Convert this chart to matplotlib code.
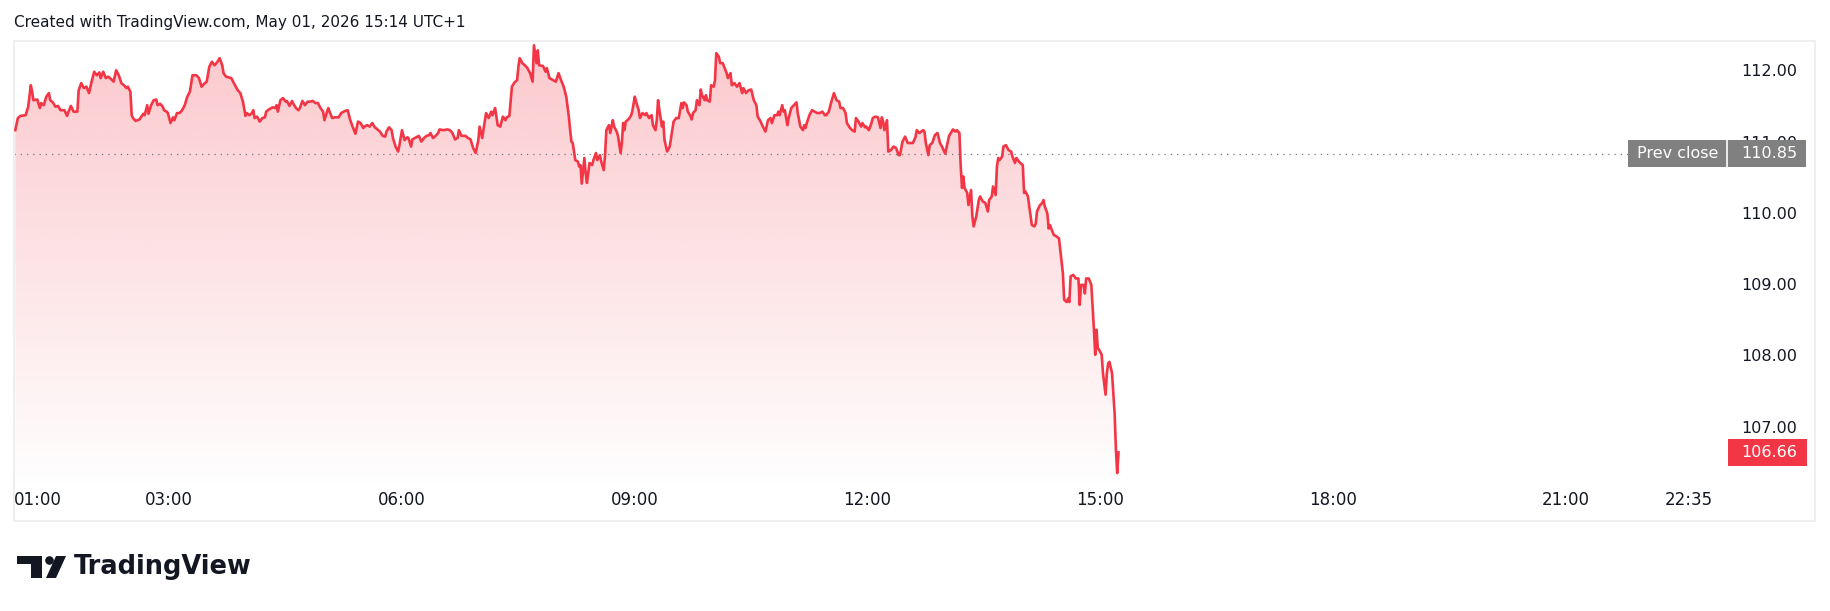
import numpy as np
import matplotlib
matplotlib.use("Agg")
import matplotlib.pyplot as plt
from matplotlib.colors import to_rgb
from matplotlib.patches import Polygon, Rectangle, Circle
from matplotlib.transforms import blended_transform_factory

# minutes after 01:00 (May 01, 2026, UTC+1) and traded price
minutes = [
    1, 3, 5, 9, 11, 13, 14, 15, 18, 20, 21, 23, 25, 27, 28, 30, 32, 34, 36, 39,
    41, 42, 44, 46, 49, 50, 52, 54, 56, 58, 60, 62, 64, 66, 67, 69, 71, 73, 76, 77,
    79, 81, 83, 85, 87, 88, 90, 91, 92, 94, 97, 100, 101, 103, 104, 106, 108, 110, 111, 113,
    115, 116, 118, 119, 121, 123, 124, 126, 128, 130, 132, 134, 136, 138, 141, 143, 145, 147, 149, 151,
    153, 155, 157, 159, 161, 162, 164, 168, 170, 173, 175, 177, 179, 180, 182, 184, 185, 186, 188, 190,
    192, 194, 195, 197, 200, 202, 203, 204, 206, 208, 210, 211, 213, 215, 216, 218, 220, 221, 223, 225,
    227, 229, 231, 233, 235, 237, 239, 240, 243, 244, 246, 248, 251, 253, 256, 258, 260, 262, 264, 266,
    268, 270, 271, 273, 275, 277, 279, 281, 283, 285, 287, 288, 290, 292, 293, 295, 297, 298, 300, 302,
    304, 305, 307, 308, 310, 312, 313, 315, 317, 319, 321, 322, 324, 326, 328, 329, 332, 335, 337, 339,
    341, 343, 344, 346, 349, 351, 353, 355, 357, 359, 360, 362, 364, 365, 367, 369, 370, 372, 374, 376,
    378, 380, 381, 383, 385, 387, 389, 390, 391, 393, 395, 397, 399, 401, 402, 404, 405, 406, 409, 411,
    412, 414, 417, 419, 421, 423, 425, 427, 428, 429, 430, 431, 432, 434, 436, 437, 438, 439, 441, 442,
    443, 445, 447, 448, 450, 451, 453, 454, 456, 457, 458, 460, 461, 463, 464, 466, 467, 469, 470, 471,
    472, 473, 475, 477, 478, 480, 481, 483, 484, 486, 488, 489, 491, 493, 494, 496, 497, 498, 499, 501,
    502, 503, 505, 507, 509, 510, 512, 514, 516, 517, 518, 520, 521, 523, 524, 525, 527, 528, 530, 531,
    532, 534, 535, 536, 538, 539, 541, 542, 543, 545, 546, 548, 551, 552, 554, 555, 557, 559, 561, 563,
    564, 566, 568, 570, 572, 574, 575, 577, 579, 581, 583, 585, 586, 588, 590, 591, 592, 594, 595, 596,
    598, 599, 601, 603, 605, 606, 608, 610, 611, 612, 613, 615, 617, 619, 621, 623, 625, 627, 628, 630,
    632, 634, 636, 638, 639, 641, 643, 644, 646, 648, 650, 651, 653, 655, 656, 658, 659, 661, 663, 664,
    666, 668, 670, 671, 672, 673, 675, 676, 678, 680, 682, 684, 685, 687, 689, 691, 693, 695, 697, 698,
    700, 703, 704, 705, 707, 708, 710, 712, 714, 716, 718, 720, 722, 723, 726, 728, 729, 731, 732, 733,
    734, 735, 737, 738, 740, 741, 742, 744, 746, 747, 749, 751, 753, 754, 756, 757, 759, 760, 761, 762,
    764, 765, 767, 769, 771, 772, 774, 775, 777, 778, 780, 781, 782, 784, 785, 787, 789, 790, 791, 793,
    795, 796, 797, 799, 800, 801, 802, 804, 806, 808, 809, 811, 812, 814, 815, 816, 817, 819, 821, 823,
    824, 825, 827, 828, 829, 831, 833, 834, 835, 836, 837, 838, 839, 841, 842, 844, 845, 846, 847, 849,
    850, 851, 852, 853, 854,
]
prices = [
    111.18, 111.35, 111.38, 111.39, 111.51, 111.81, 111.72, 111.60, 111.61, 111.49, 111.56, 111.53, 111.65, 111.70, 111.60, 111.57, 111.51, 111.52, 111.46, 111.46,
    111.38, 111.43, 111.52, 111.44, 111.44, 111.74, 111.84, 111.77, 111.79, 111.70, 111.86, 112.00, 111.95, 111.99, 111.91, 112.00, 111.91, 111.93, 111.88, 111.86,
    112.02, 111.95, 111.84, 111.81, 111.77, 111.79, 111.72, 111.39, 111.35, 111.31, 111.33, 111.41, 111.39, 111.53, 111.41, 111.53, 111.60, 111.61, 111.53, 111.55,
    111.51, 111.46, 111.44, 111.42, 111.28, 111.36, 111.32, 111.42, 111.42, 111.46, 111.53, 111.65, 111.72, 111.95, 111.95, 111.91, 111.79, 111.83, 111.86, 112.07,
    112.14, 112.09, 112.13, 112.19, 112.09, 111.98, 111.93, 111.91, 111.84, 111.74, 111.70, 111.58, 111.38, 111.42, 111.39, 111.42, 111.46, 111.35, 111.37, 111.30,
    111.35, 111.36, 111.44, 111.47, 111.50, 111.49, 111.53, 111.44, 111.60, 111.63, 111.58, 111.59, 111.52, 111.59, 111.55, 111.49, 111.46, 111.49, 111.59, 111.53,
    111.58, 111.58, 111.59, 111.56, 111.56, 111.49, 111.44, 111.32, 111.49, 111.44, 111.35, 111.36, 111.36, 111.42, 111.45, 111.46, 111.32, 111.22, 111.13, 111.30,
    111.28, 111.21, 111.23, 111.25, 111.23, 111.28, 111.22, 111.19, 111.16, 111.10, 111.09, 111.16, 111.22, 111.18, 111.07, 110.95, 110.88, 110.97, 111.18, 111.04,
    111.08, 111.07, 110.95, 111.05, 111.07, 111.09, 111.10, 111.02, 111.07, 111.10, 111.11, 111.14, 111.07, 111.10, 111.14, 111.19, 111.18, 111.19, 111.18, 111.14,
    111.05, 111.07, 111.18, 111.10, 111.10, 111.07, 111.05, 110.93, 110.86, 111.04, 111.23, 111.07, 111.30, 111.42, 111.35, 111.44, 111.39, 111.49, 111.25, 111.23,
    111.37, 111.32, 111.36, 111.38, 111.79, 111.85, 111.88, 112.07, 112.19, 112.12, 112.09, 112.05, 111.98, 111.86, 112.37, 112.12, 112.30, 112.09, 112.08, 112.00,
    112.05, 111.91, 111.88, 111.86, 111.98, 111.88, 111.79, 111.65, 111.51, 111.37, 111.18, 111.02, 111.00, 110.76, 110.74, 110.67, 110.69, 110.43, 110.79, 110.58,
    110.44, 110.72, 110.69, 110.76, 110.86, 110.76, 110.83, 110.74, 110.62, 110.83, 111.18, 111.25, 111.14, 111.32, 111.23, 111.16, 111.10, 110.86, 111.00, 111.28,
    111.18, 111.30, 111.33, 111.38, 111.44, 111.65, 111.58, 111.46, 111.35, 111.42, 111.39, 111.42, 111.35, 111.39, 111.25, 111.18, 111.32, 111.60, 111.46, 111.23,
    111.30, 111.04, 110.88, 110.95, 111.18, 111.30, 111.35, 111.35, 111.56, 111.49, 111.57, 111.53, 111.44, 111.38, 111.33, 111.42, 111.46, 111.60, 111.53, 111.75,
    111.67, 111.60, 111.67, 111.60, 111.58, 111.81, 111.79, 111.88, 112.26, 112.21, 112.12, 112.12, 111.98, 111.91, 111.98, 111.81, 111.84, 111.79, 111.84, 111.70,
    111.77, 111.70, 111.74, 111.75, 111.60, 111.53, 111.37, 111.31, 111.23, 111.16, 111.32, 111.35, 111.28, 111.39, 111.39, 111.44, 111.39, 111.53, 111.44, 111.46,
    111.25, 111.35, 111.49, 111.53, 111.57, 111.42, 111.23, 111.18, 111.25, 111.21, 111.28, 111.39, 111.46, 111.44, 111.42, 111.42, 111.44, 111.39, 111.39, 111.44,
    111.58, 111.70, 111.60, 111.58, 111.49, 111.49, 111.42, 111.28, 111.22, 111.18, 111.16, 111.35, 111.30, 111.23, 111.28, 111.22, 111.23, 111.18, 111.28, 111.35,
    111.37, 111.36, 111.21, 111.36, 111.30, 111.18, 111.32, 110.88, 110.90, 110.95, 110.93, 110.83, 110.83, 111.02, 111.09, 111.00, 111.00, 111.00, 111.08, 111.18,
    111.14, 111.18, 111.16, 111.00, 110.83, 110.97, 111.00, 111.11, 111.14, 111.00, 110.93, 110.85, 111.02, 111.10, 111.19, 111.16, 111.18, 111.14, 110.67, 110.37,
    110.53, 110.37, 110.30, 110.13, 110.34, 109.97, 109.83, 109.97, 110.20, 110.25, 110.18, 110.16, 110.04, 110.20, 110.25, 110.39, 110.27, 110.67, 110.79, 110.76,
    110.81, 110.95, 110.97, 110.90, 110.88, 110.81, 110.72, 110.79, 110.74, 110.72, 110.69, 110.30, 110.32, 110.25, 110.11, 109.85, 109.83, 109.87, 110.04, 110.12,
    110.16, 110.20, 110.11, 110.01, 109.80, 109.85, 109.80, 109.71, 109.69, 109.66, 109.50, 109.17, 108.80, 108.77, 108.82, 108.77, 109.13, 109.15, 109.10, 109.10,
    108.73, 109.01, 109.01, 108.89, 109.10, 109.10, 109.01, 108.70, 108.38, 108.03, 108.38, 108.12, 108.10, 108.03, 107.77, 107.47, 107.77, 107.91, 107.93, 107.77,
    107.49, 107.21, 106.70, 106.37, 106.66,
]

prev_close = 110.85
last_price = 106.66
price_ticks = [112, 111, 110, 109, 108, 107]
time_ticks = [1, 3, 6, 9, 12, 15, 18, 21, 22 + 35 / 60]
time_labels = ['01:00', '03:00', '06:00', '09:00', '12:00', '15:00', '18:00', '21:00', '22:35']
header = 'Created with TradingView.com, May 01, 2026 15:14 UTC+1'

RED = '#F23645'
TEXT = '#131722'
GREY = '#808080'
FONT = 11.5

hours = 1 + np.array(minutes) / 60.0
prices = np.array(prices)

W, H = 1830, 611
fig = plt.figure(figsize=(W / 100, H / 100), dpi=100)
fig.patch.set_facecolor('white')

# page overlay in pixel units (header + logo)
page = fig.add_axes([0, 0, 1, 1])
page.set_xlim(0, W)
page.set_ylim(H, 0)
page.axis('off')

page.text(14, 22, header, fontsize=11, color=TEXT, va='center', ha='left')

# TradingView logo
page.add_patch(Rectangle((17, 556), 25, 8, color=TEXT, lw=0))
page.add_patch(Rectangle((31, 556), 11, 22, color=TEXT, lw=0))
page.add_patch(Circle((49.5, 560.5), 4.3, color=TEXT, lw=0))
page.add_patch(Polygon([(46, 578), (56, 578), (66, 556), (56, 556)], closed=True, color=TEXT, lw=0))
page.text(74, 567, 'TradingView', fontsize=18.5, fontweight='bold', color=TEXT,
          va='center', ha='left')

# chart pane
ax = fig.add_axes([14 / W, 1 - 521 / H, (1815 - 14) / W, (521 - 41) / H])
ax.patch.set_alpha(0)
px_per_hour = 77.6
px_per_unit = 71.3
xlim = (1, 1 + (1815 - 14) / px_per_hour)
ylim = (112 - (521 - 71.7) / px_per_unit, 112 + (71.7 - 41) / px_per_unit)

base = 106.12
grad = np.zeros((256, 1, 4))
grad[..., :3] = to_rgb(RED)
grad[:, 0, 3] = np.linspace(0.27, 0.0, 256)
im = ax.imshow(grad, extent=[hours[0], hours[-1], base, prices.max()],
               aspect='auto', origin='upper', zorder=1, interpolation='bilinear')
verts = np.column_stack([np.r_[hours, hours[-1], hours[0]],
                         np.r_[prices, base, base]])
clip = Polygon(verts, closed=True, transform=ax.transData,
               facecolor='none', edgecolor='none')
ax.add_patch(clip)
im.set_clip_path(clip)

ax.plot(hours, prices, color=RED, lw=1.9, zorder=3, solid_joinstyle='round')

ax.set_xlim(*xlim)
ax.set_ylim(*ylim)
ax.set_xticks([])
ax.set_yticks([])
for s in ax.spines.values():
    s.set_color('#EFEFEF')
    s.set_linewidth(1.5)

yt = blended_transform_factory(ax.transAxes, ax.transData)
xt = blended_transform_factory(ax.transData, ax.transAxes)

lab_right = (1797 - 14) / (1815 - 14)
box_left = (1628 - 14) / (1815 - 14)
box_mid = (1727 - 14) / (1815 - 14)
box_right = (1806 - 14) / (1815 - 14)
half_h = 13.5 / px_per_unit

for p in price_ticks:
    ax.text(lab_right, p, f'{p:.2f}', transform=yt, ha='right', va='center',
            fontsize=FONT, color=TEXT, zorder=4)

# previous close line and label
ax.axhline(prev_close, xmin=0, xmax=box_left, color='#777777', lw=0.9,
           linestyle=(0, (1, 4)), zorder=2)
ax.add_patch(Rectangle((box_left, prev_close - half_h), box_right - box_left, 2 * half_h,
                       transform=yt, color=GREY, lw=0, zorder=5))
ax.plot([box_mid, box_mid], [prev_close - half_h, prev_close + half_h], transform=yt,
        color='white', lw=1.2, zorder=6)
ax.text((box_left + box_mid) / 2, prev_close, 'Prev close', transform=yt,
        ha='center', va='center', fontsize=FONT, color='white', zorder=7)
ax.text(lab_right, prev_close, f'{prev_close:.2f}', transform=yt,
        ha='right', va='center', fontsize=FONT, color='white', zorder=7)

# last price label
ax.add_patch(Rectangle((box_mid + 0.0005, last_price - half_h), box_right - box_mid, 2 * half_h,
                       transform=yt, color=RED, lw=0, zorder=5))
ax.text(lab_right, last_price, f'{last_price:.2f}', transform=yt,
        ha='right', va='center', fontsize=FONT, color='white', zorder=7)

# time axis labels
for t, lab in zip(time_ticks, time_labels):
    ha = 'left' if t == time_ticks[0] else 'center'
    ax.text(t, 0.044, lab, transform=xt, ha=ha, va='center', fontsize=12,
            color=TEXT, zorder=4)

fig.savefig('out.png', dpi=100, facecolor='white')
